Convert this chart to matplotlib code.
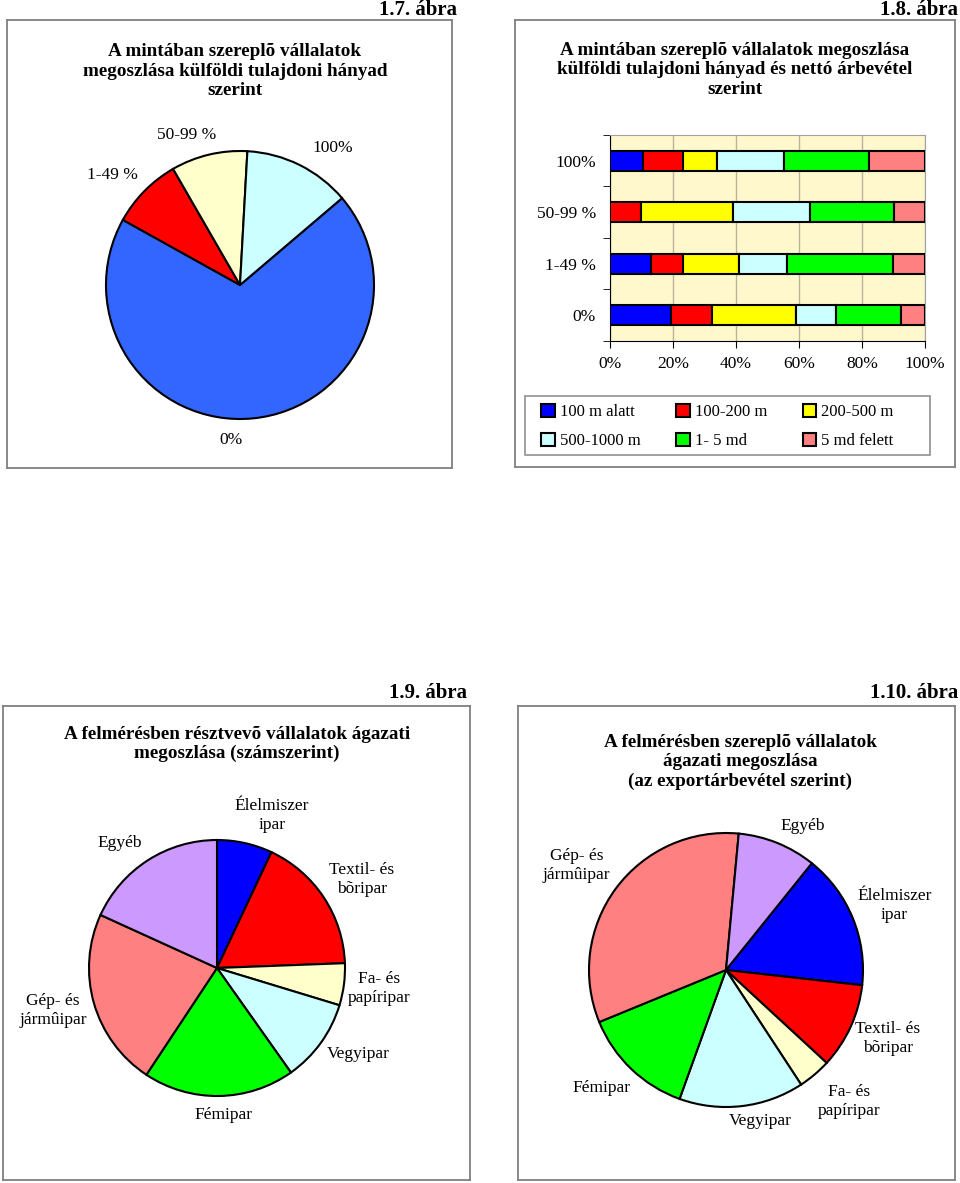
import matplotlib.pyplot as plt
import numpy as np
from matplotlib.patches import Rectangle

plt.rcParams['font.family'] = ['Liberation Serif', 'DejaVu Serif']

W, H = 960, 1183

# 1.7 - pie, foreign ownership share
own_labels = ['0%', '1-49 %', '50-99 %', '100%']
own_values = [69.3, 8.6, 9.2, 12.9]
own_colors = ['#3366FF', '#FF0000', '#FFFFCC', '#CCFFFF']

# 1.8 - stacked bars, ownership x net revenue
bar_cats = ['0%', '1-49 %', '50-99 %', '100%']
rev_labels = ['100 m alatt', '100-200 m', '200-500 m', '500-1000 m', '1- 5 md', '5 md felett']
rev_colors = ['#0000FF', '#FF0000', '#FFFF00', '#CCFFFF', '#00FF00', '#FF8080']
rev_0 = [19.4, 12.9, 26.9, 12.7, 20.6, 7.5]
rev_1_49 = [12.9, 10.2, 18.0, 15.2, 33.5, 10.2]
rev_50_99 = [0.0, 9.9, 29.1, 24.4, 26.9, 9.7]
rev_100 = [10.6, 12.5, 10.8, 21.2, 27.1, 17.8]

# 1.9 / 1.10 - sector pies
sectors = ['Élelmiszer\nipar', 'Textil- és\nbõripar', 'Fa- és\npapíripar', 'Vegyipar',
           'Fémipar', 'Gép- és\njármûipar', 'Egyéb']
sector_colors = ['#0000FF', '#FF0000', '#FFFFCC', '#CCFFFF', '#00FF00', '#FF8080', '#CC99FF']
count_share = [7.0, 17.4, 5.3, 10.5, 19.1, 22.5, 18.2]
export_share = [16.0, 10.1, 3.9, 14.75, 13.3, 32.7, 9.3]

# where Excel put the slice labels (in pie-radius units)
own_lab_pos = [(-0.07, -1.16), (-0.95, 0.82), (-0.40, 1.12), (0.69, 1.02)]
count_lab_pos = [(0.43, 1.19), (1.13, 0.69), (1.27, -0.16), (1.10, -0.67),
                 (0.05, -1.15), (-1.28, -0.33), (-0.76, 0.98)]
export_lab_pos = [(1.23, 0.47), (1.18, -0.50), (0.90, -0.96), (0.25, -1.10),
                  (-0.91, -0.86), (-1.09, 0.76), (0.56, 1.05)]


def box(x0, y0, x1, y1):
    return [x0 / W, 1 - y1 / H, (x1 - x0) / W, (y1 - y0) / H]


def frame(x0, y0, x1, y1, caption, cap_x, cap_y):
    ax = fig.add_axes(box(x0, y0, x1, y1), zorder=0)
    ax.set_xticks([])
    ax.set_yticks([])
    ax.patch.set_alpha(0)
    for s in ax.spines.values():
        s.set_color('#808080')
        s.set_linewidth(1.3)
    fig.text(cap_x / W, 1 - cap_y / H, caption, ha='right', va='center',
             fontsize=15, fontweight='bold')


def title(x, y, txt):
    fig.text(x / W, 1 - y / H, txt, ha='center', va='center', fontsize=13.8,
             fontweight='bold', linespacing=1.2)


def pie(cx, cy, r, values, labels, colors, start, lab_pos, fs):
    ax = fig.add_axes(box(cx - r, cy - r, cx + r, cy + r), zorder=2)
    wedges, texts = ax.pie(values, labels=labels, colors=colors, startangle=start,
                           counterclock=False,
                           wedgeprops=dict(edgecolor='black', linewidth=1.5),
                           textprops=dict(fontsize=fs, linespacing=1.25))
    for t, p in zip(texts, lab_pos):
        t.set_ha('center')
        t.set_va('center')
        t.set_position(p)
    ax.set_xlim(-1, 1)
    ax.set_ylim(-1, 1)
    return ax


fig = plt.figure(figsize=(W / 100, H / 100), dpi=100)

# ---- 1.7
frame(7, 20, 452, 468, '1.7. ábra', 457, 10)
title(235, 71, 'A mintában szereplõ vállalatok\nmegoszlása külföldi tulajdoni hányad\nszerint')
pie(240, 285, 134, own_values, own_labels, own_colors, 90 - 49.6, own_lab_pos, 12.5)

# ---- 1.8
frame(515, 20, 955, 467, '1.8. ábra', 958, 10)
title(735, 70, 'A mintában szereplõ vállalatok megoszlása\nkülföldi tulajdoni hányad és nettó árbevétel\nszerint')
ax = fig.add_axes(box(610, 135, 925, 341), zorder=2)
ax.set_facecolor('#FFF8CC')
data = np.array([rev_0, rev_1_49, rev_50_99, rev_100])
y = np.arange(len(bar_cats))
left = np.zeros(len(bar_cats))
handles = []
for i in range(len(rev_labels)):
    b = ax.barh(y, data[:, i], left=left, height=0.39, color=rev_colors[i],
                edgecolor='black', linewidth=1.5, label=rev_labels[i], zorder=3)
    handles.append(b)
    left += data[:, i]
ax.set_xlim(0, 100)
ax.set_ylim(-0.5, 3.5)
ax.set_xticks(np.arange(0, 101, 20))
ax.set_xticklabels([f'{v}%' for v in range(0, 101, 20)], fontsize=12.5)
ax.set_yticks(y)
ax.set_yticklabels(bar_cats, fontsize=12.5)
ax.set_yticks(np.arange(-0.5, 3.6, 1), minor=True)
ax.tick_params(axis='y', which='major', length=0, pad=10)
ax.tick_params(axis='y', which='minor', length=5, direction='out')
ax.tick_params(axis='x', length=5, direction='out', pad=6)
ax.grid(axis='x', color='#B8B49C', linewidth=1, zorder=0)
ax.set_axisbelow(True)
for s in ['top', 'right']:
    ax.spines[s].set_color('#A0A0A0')

fig.patches.append(Rectangle((525 / W, 1 - 455 / H), 405 / W, 59 / H,
                             transform=fig.transFigure, fill=False,
                             edgecolor='#909090', linewidth=1.2))
order = [0, 3, 1, 4, 2, 5]
fig.legend([handles[i] for i in order], [rev_labels[i] for i in order],
           loc='upper left', bbox_to_anchor=(538 / W, 1 - 401 / H),
           ncol=3, fontsize=12, frameon=False, columnspacing=2.15,
           handlelength=0.8, handleheight=0.8, handletextpad=0.3, borderaxespad=0,
           borderpad=0.2, labelspacing=0.75)

# ---- 1.9
frame(3, 706, 470, 1180, '1.9. ábra', 467, 693)
title(237, 744, 'A felmérésben résztvevõ vállalatok ágazati\nmegoszlása (számszerint)')
pie(217, 968, 128, count_share, sectors, sector_colors, 90, count_lab_pos, 12.5)

# ---- 1.10
frame(518, 706, 955, 1180, '1.10. ábra', 958, 693)
title(740, 762, 'A felmérésben szereplõ vállalatok\nágazati megoszlása\n(az exportárbevétel szerint)')
pie(726, 970, 137, export_share, sectors, sector_colors, 90 - 38.8, export_lab_pos, 12.5)

fig.savefig('out.png', dpi=100)
